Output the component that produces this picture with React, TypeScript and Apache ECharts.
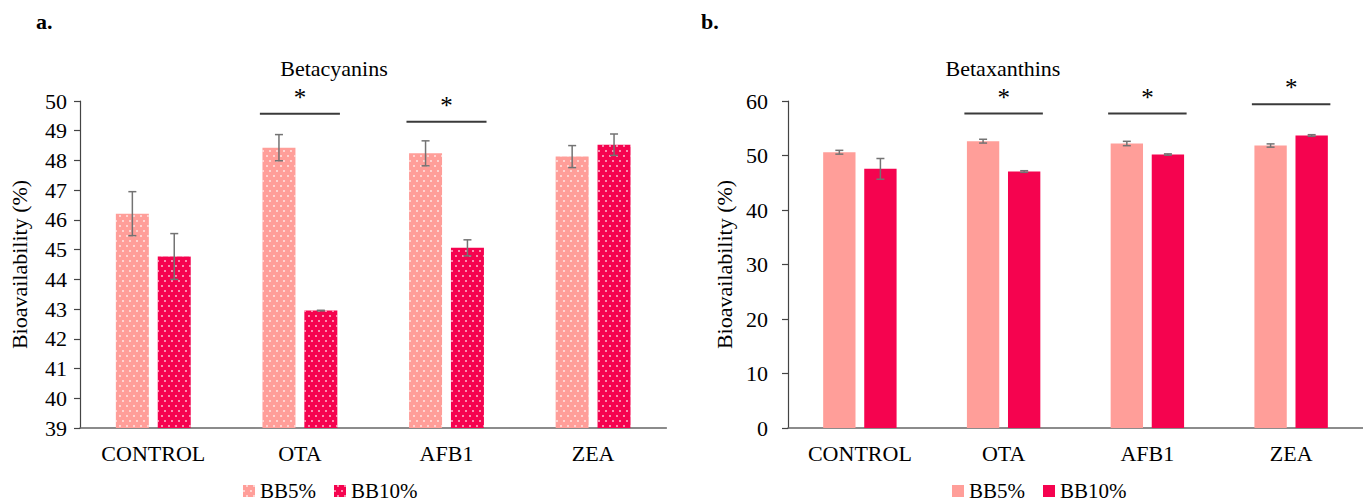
import React, { useEffect, useRef } from "react";
import * as echarts from "echarts";

const categories = ["CONTROL", "OTA", "AFB1", "ZEA"];
const seriesNames = ["BB5%", "BB10%"];

// Betacyanins (panel a)
const betacyaninsBB5 = [46.21, 48.43, 48.24, 48.13];
const betacyaninsBB5Err = [0.74, 0.44, 0.42, 0.37];
const betacyaninsBB10 = [44.77, 42.95, 45.06, 48.53];
const betacyaninsBB10Err = [0.77, 0.01, 0.27, 0.36];
const betacyaninsSig = [
  [1, 49.57],
  [2, 49.3],
];
const betacyaninsTicks = { min: 39, max: 50, interval: 1 };

// Betaxanthins (panel b)
const betaxanthinsBB5 = [50.6, 52.63, 52.2, 51.83];
const betaxanthinsBB5Err = [0.35, 0.35, 0.4, 0.3];
const betaxanthinsBB10 = [47.55, 47.06, 50.18, 53.67];
const betaxanthinsBB10Err = [1.9, 0.15, 0.12, 0.15];
const betaxanthinsSig = [
  [1, 57.7],
  [2, 57.7],
  [3, 59.4],
];
const betaxanthinsTicks = { min: 0, max: 60, interval: 10 };

const COLOR_5 = "#FF9E99";
const COLOR_10 = "#F5034F";
const FONT = "'Liberation Serif', 'Times New Roman', Times, serif";
const BAR_W_FRAC = 0.225;
const BAR_GAP = 0.27;

function errSeries(vals: number[], errs: number[], side: number) {
  return {
    type: "custom",
    silent: true,
    z: 5,
    data: vals.map((v, i) => [i, v, errs[i]]),
    renderItem: (params: any, api: any) => {
      const c = api.value(0);
      const v = api.value(1);
      const e = api.value(2);
      const band = api.size([1, 0])[0];
      const off = (band * BAR_W_FRAC * (1 + BAR_GAP)) / 2;
      const x = api.coord([c, v])[0] + side * off;
      const top = api.coord([c, v + e])[1];
      const bot = api.coord([c, v - e])[1];
      const cap = 4;
      const st = { stroke: "#737373", lineWidth: 1.5 };
      return {
        type: "group",
        children: [
          { type: "line", shape: { x1: x, y1: top, x2: x, y2: bot }, style: st },
          { type: "line", shape: { x1: x - cap, y1: top, x2: x + cap, y2: top }, style: st },
          { type: "line", shape: { x1: x - cap, y1: bot, x2: x + cap, y2: bot }, style: st },
        ],
      };
    },
  };
}

function sigSeries(sig: number[][]) {
  return {
    type: "custom",
    silent: true,
    z: 6,
    clip: false,
    data: sig,
    renderItem: (params: any, api: any) => {
      const c = api.value(0);
      const y = api.value(1);
      const band = api.size([1, 0])[0];
      const p = api.coord([c, y]);
      const half = band * 0.273;
      return {
        type: "group",
        children: [
          {
            type: "line",
            shape: { x1: p[0] - half, y1: p[1], x2: p[0] + half, y2: p[1] },
            style: { stroke: "#3a3a3a", lineWidth: 2 },
          },
          {
            type: "text",
            x: p[0],
            y: p[1] - 4,
            style: {
              text: "*",
              fill: "#000",
              fontFamily: FONT,
              fontSize: 25,
              align: "center",
              verticalAlign: "bottom",
            },
          },
        ],
      };
    },
  };
}

function buildOption(opts: {
  title: string;
  titleX: number;
  panel: string;
  panelX: number;
  gridLeft: number;
  gridWidth: number;
  legendLeft: number;
  bb5: number[];
  bb5Err: number[];
  bb10: number[];
  bb10Err: number[];
  sig: number[][];
  ticks: { min: number; max: number; interval: number };
  labelMargin: number;
  decal: boolean;
}) {
  const decal = opts.decal
    ? {
        symbol: "rect",
        symbolSize: 1,
        dashArrayX: [
          [1.5, 4.5],
          [0, 3, 1.5, 1.5],
        ],
        dashArrayY: [1.5, 2.5],
        color: "rgba(255,255,255,0.55)",
      }
    : undefined;
  return {
    animation: false,
    textStyle: { fontFamily: FONT },
    grid: { left: opts.gridLeft, top: 101, width: opts.gridWidth, bottom: 75, containLabel: false },
    graphic: [
      {
        type: "text",
        x: opts.titleX,
        y: 68,
        style: {
          text: opts.title,
          fill: "#000",
          fontFamily: FONT,
          fontSize: 22,
          align: "center",
          verticalAlign: "middle",
        },
      },
      {
        type: "text",
        x: opts.panelX,
        y: 21,
        style: {
          text: opts.panel,
          fill: "#000",
          fontFamily: FONT,
          fontSize: 22,
          fontWeight: "bold",
          align: "left",
          verticalAlign: "middle",
        },
      },
    ],
    legend: {
      left: opts.legendLeft,
      top: 480,
      padding: 0,
      itemWidth: 12,
      itemHeight: 12,
      itemGap: 18,
      icon: "rect",
      textStyle: { fontFamily: FONT, fontSize: 21, color: "#000", lineHeight: 22 },
      data: seriesNames,
    },
    xAxis: {
      type: "category",
      data: categories,
      axisLine: { lineStyle: { color: "#666", width: 1.5 } },
      axisTick: { show: false },
      axisLabel: { fontFamily: FONT, fontSize: 22, color: "#000", margin: 14 },
    },
    yAxis: {
      type: "value",
      min: opts.ticks.min,
      max: opts.ticks.max,
      interval: opts.ticks.interval,
      name: "Bioavailability (%)",
      nameLocation: "middle",
      nameGap: 50,
      nameTextStyle: { fontFamily: FONT, fontSize: 22, color: "#000" },
      axisLine: { show: true, lineStyle: { color: "#444", width: 1.2 } },
      axisTick: { show: true, length: 6, lineStyle: { color: "#444", width: 1.2 } },
      splitLine: { show: false },
      axisLabel: { fontFamily: FONT, fontSize: 22, color: "#000", margin: opts.labelMargin },
    },
    series: [
      {
        name: seriesNames[0],
        type: "bar",
        data: opts.bb5,
        barWidth: BAR_W_FRAC * 100 + "%",
        barGap: BAR_GAP * 100 + "%",
        itemStyle: { color: COLOR_5, decal },
      },
      {
        name: seriesNames[1],
        type: "bar",
        data: opts.bb10,
        barWidth: BAR_W_FRAC * 100 + "%",
        barGap: BAR_GAP * 100 + "%",
        itemStyle: { color: COLOR_10, decal },
      },
      errSeries(opts.bb5, opts.bb5Err, -1),
      errSeries(opts.bb10, opts.bb10Err, 1),
      sigSeries(opts.sig),
    ],
  };
}

export default function App() {
  const leftRef = useRef<HTMLDivElement>(null);
  const rightRef = useRef<HTMLDivElement>(null);

  useEffect(() => {
    const left = echarts.init(leftRef.current!, null, { renderer: "svg" });
    const right = echarts.init(rightRef.current!, null, { renderer: "svg" });
    left.setOption(
      buildOption({
        title: "Betacyanins",
        titleX: 334,
        panel: "a.",
        panelX: 36,
        gridLeft: 80,
        gridWidth: 586.4,
        legendLeft: 243,
        bb5: betacyaninsBB5,
        bb5Err: betacyaninsBB5Err,
        bb10: betacyaninsBB10,
        bb10Err: betacyaninsBB10Err,
        sig: betacyaninsSig,
        ticks: betacyaninsTicks,
        labelMargin: 13,
        decal: true,
      }) as any
    );
    right.setOption(
      buildOption({
        title: "Betaxanthins",
        titleX: 306,
        panel: "b.",
        panelX: 4,
        gridLeft: 91,
        gridWidth: 586.4,
        legendLeft: 255,
        bb5: betaxanthinsBB5,
        bb5Err: betaxanthinsBB5Err,
        bb10: betaxanthinsBB10,
        bb10Err: betaxanthinsBB10Err,
        sig: betaxanthinsSig,
        ticks: betaxanthinsTicks,
        labelMargin: 20,
        decal: false,
      }) as any
    );
    return () => {
      left.dispose();
      right.dispose();
    };
  }, []);

  return (
    <div style={{ position: "absolute", left: 0, top: 0, width: 1363, height: 503, background: "#fff", overflow: "hidden" }}>
      <div ref={leftRef} style={{ position: "absolute", left: 0, top: 0, width: 697, height: 503 }} />
      <div ref={rightRef} style={{ position: "absolute", left: 697, top: 0, width: 666, height: 503 }} />
    </div>
  );
}
